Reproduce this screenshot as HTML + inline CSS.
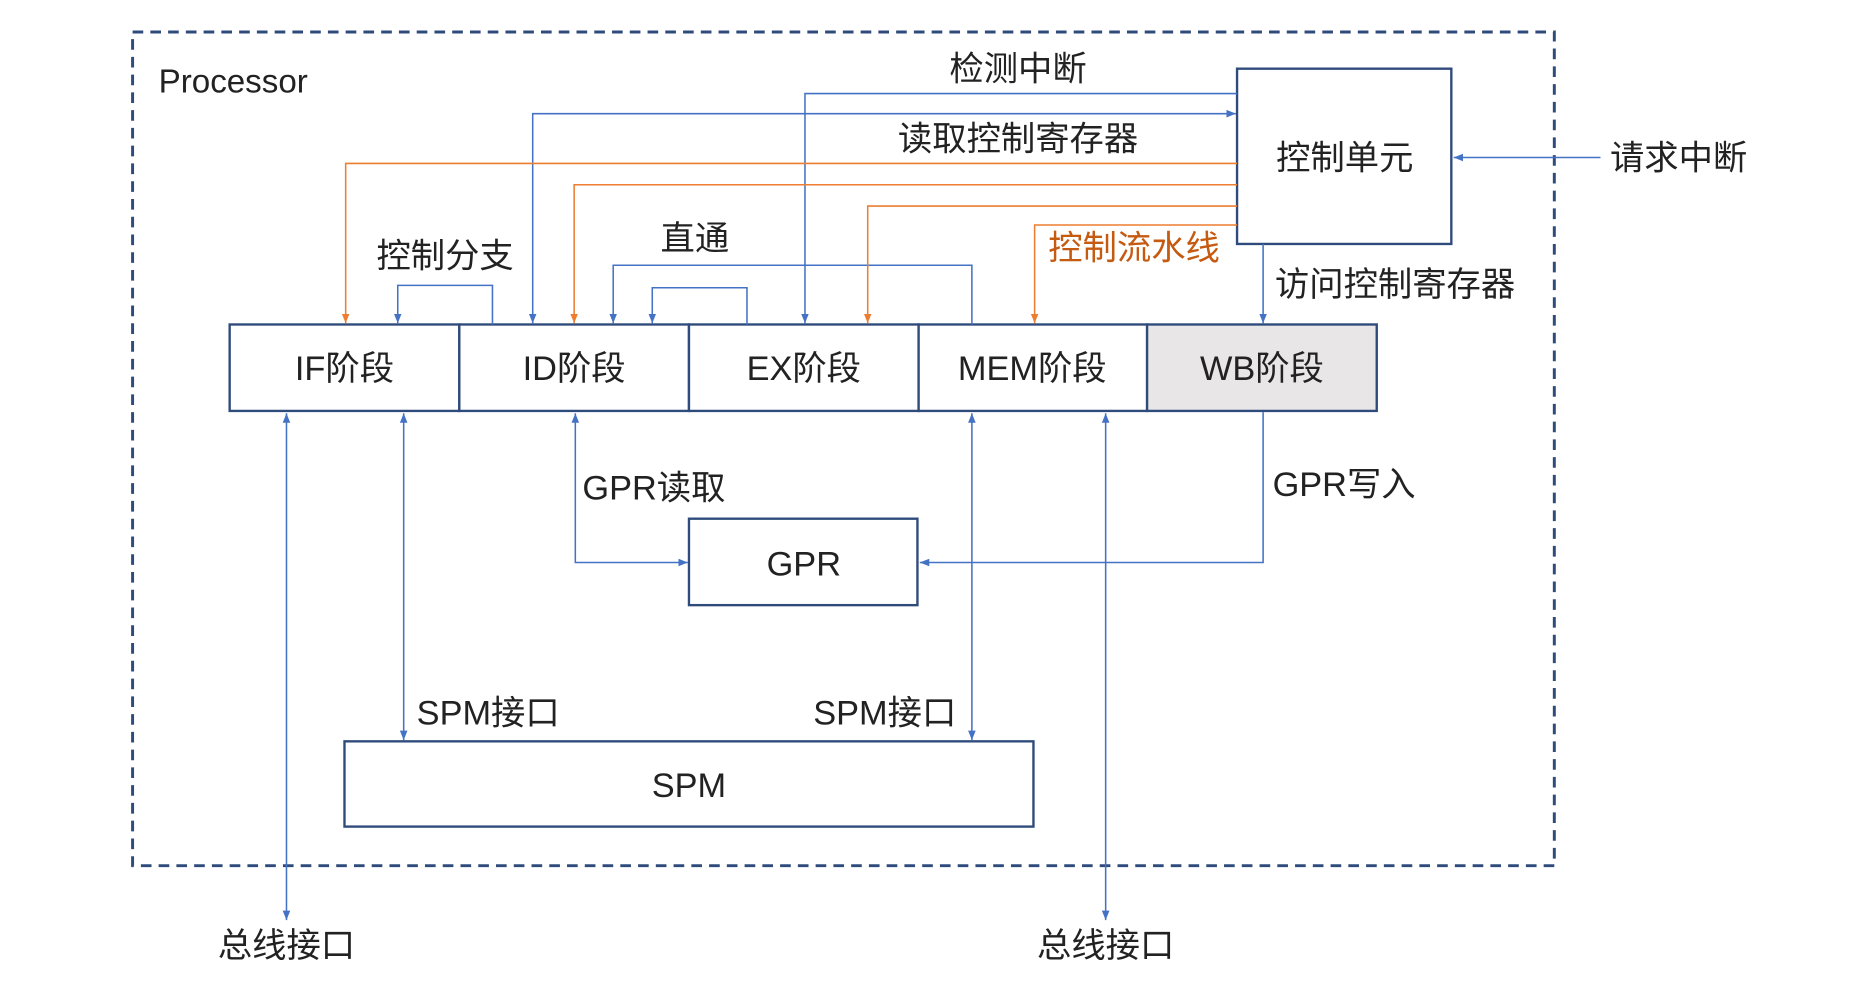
<!DOCTYPE html>
<html><head><meta charset="utf-8"><style>
html,body{margin:0;padding:0;background:#fff;}
svg{display:block;}
text{font-family:"Liberation Sans","Noto Sans CJK SC",sans-serif;font-size:29px;fill:#222;}
</style></head><body>
<svg width="1855" height="986" viewBox="0 0 1567 832.6" preserveAspectRatio="none" xmlns="http://www.w3.org/2000/svg">
<defs>
<marker id="b" viewBox="0 0 10 10" refX="10" refY="5" markerWidth="8" markerHeight="8" orient="auto-start-reverse" markerUnits="userSpaceOnUse"><path d="M0,1 L10,5 L0,9 z" fill="#4472c4"/></marker>
<marker id="o" viewBox="0 0 10 10" refX="10" refY="5" markerWidth="8" markerHeight="8" orient="auto-start-reverse" markerUnits="userSpaceOnUse"><path d="M0,1 L10,5 L0,9 z" fill="#ed7d31"/></marker>
</defs>
<rect x="112" y="27" width="1201" height="704" fill="none" stroke="#2f4b7c" stroke-width="2.5" stroke-dasharray="9,6"/>
<text x="134" y="78" style="font-size:28px">Processor</text>
<rect x="1045" y="58" width="181" height="148" fill="#fff" stroke="#2f4b7c" stroke-width="2"/>
<text x="1136" y="143" text-anchor="middle">控制单元</text>
<text x="1360" y="143">请求中断</text>
<line x1="1352" y1="133" x2="1228" y2="133" stroke="#4472c4" stroke-width="1.3" marker-end="url(#b)"/>
<g stroke="#2f4b7c" stroke-width="2">
<rect x="194" y="274" width="194" height="73" fill="#fff"/>
<rect x="388" y="274" width="194" height="73" fill="#fff"/>
<rect x="582" y="274" width="194" height="73" fill="#fff"/>
<rect x="776" y="274" width="193" height="73" fill="#fff"/>
<rect x="969" y="274" width="194" height="73" fill="#e8e6e6"/>
<rect x="582" y="438" width="193" height="73" fill="#fff"/>
<rect x="291" y="626" width="582" height="72" fill="#fff"/>
</g>
<g text-anchor="middle">
<text x="291" y="321">IF阶段</text>
<text x="485" y="321">ID阶段</text>
<text x="679" y="321">EX阶段</text>
<text x="872" y="321">MEM阶段</text>
<text x="1066" y="321">WB阶段</text>
<text x="679" y="486">GPR</text>
<text x="582" y="673">SPM</text>
<text x="860" y="68">检测中断</text>
<text x="860" y="127">读取控制寄存器</text>
<text x="376" y="226">控制分支</text>
<text x="587" y="211">直通</text>
<text x="958" y="219" style="fill:#c55a11">控制流水线</text>
<text x="242" y="808">总线接口</text>
<text x="934" y="808">总线接口</text>
</g>
<text x="1077" y="250">访问控制寄存器</text>
<text x="492" y="422">GPR读取</text>
<text x="1075" y="419">GPR写入</text>
<text x="352" y="612">SPM接口</text>
<text x="687" y="612">SPM接口</text>
<g fill="none" stroke="#4472c4" stroke-width="1.3">
<polyline points="1045,79 680,79 680,273" marker-end="url(#b)"/>
<polyline points="450,273 450,96 1044,96" marker-start="url(#b)" marker-end="url(#b)"/>
<line x1="1067" y1="206" x2="1067" y2="273" marker-end="url(#b)"/>
<polyline points="416,274 416,241 336,241 336,273" marker-end="url(#b)"/>
<polyline points="821,274 821,224 518,224 518,273" marker-end="url(#b)"/>
<polyline points="631,274 631,243 551,243 551,273" marker-end="url(#b)"/>
<line x1="242" y1="349" x2="242" y2="777" marker-start="url(#b)" marker-end="url(#b)"/>
<line x1="341" y1="349" x2="341" y2="625" marker-start="url(#b)" marker-end="url(#b)"/>
<polyline points="486,349 486,475 581,475" marker-start="url(#b)" marker-end="url(#b)"/>
<polyline points="1067,348 1067,475 777,475" marker-end="url(#b)"/>
<line x1="821" y1="349" x2="821" y2="625" marker-start="url(#b)" marker-end="url(#b)"/>
<line x1="934" y1="349" x2="934" y2="777" marker-start="url(#b)" marker-end="url(#b)"/>
</g>
<g fill="none" stroke="#ed7d31" stroke-width="1.3">
<polyline points="1045,138 292,138 292,273" marker-end="url(#o)"/>
<polyline points="1045,156 485,156 485,273" marker-end="url(#o)"/>
<polyline points="1045,174 733,174 733,273" marker-end="url(#o)"/>
<polyline points="1045,190 874,190 874,273" marker-end="url(#o)"/>
</g>
</svg>
</body></html>
